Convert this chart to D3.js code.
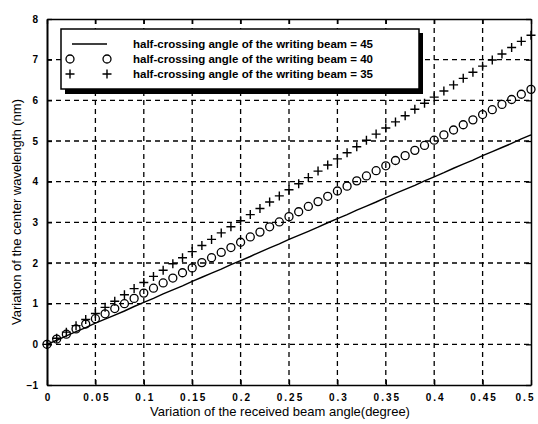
<!DOCTYPE html>
<html>
<head>
<meta charset="utf-8">
<script src="https://cdn.jsdelivr.net/npm/d3@7"></script>
<style>
  html, body { margin: 0; padding: 0; background: #fff; }
  main { width: 538px; height: 424px; }
  svg { display: block; font-family: "Liberation Sans", Arial, sans-serif; }
</style>
</head>
<body>
<main></main>
<script>
// received beam angle variation (degree)
const angles = [
  0, 0.01, 0.02, 0.03, 0.04, 0.05, 0.06, 0.07, 0.08, 0.09,
  0.1, 0.11, 0.12, 0.13, 0.14, 0.15, 0.16, 0.17, 0.18, 0.19,
  0.2, 0.21, 0.22, 0.23, 0.24, 0.25, 0.26, 0.27, 0.28, 0.29,
  0.3, 0.31, 0.32, 0.33, 0.34, 0.35, 0.36, 0.37, 0.38, 0.39,
  0.4, 0.41, 0.42, 0.43, 0.44, 0.45, 0.46, 0.47, 0.48, 0.49, 0.5,
];

// center wavelength variation (nm), one list per half-crossing angle
const beam45 = [
  0, 0.1, 0.21, 0.31, 0.41, 0.52, 0.62, 0.72, 0.82, 0.93,
  1.03, 1.13, 1.24, 1.34, 1.44, 1.55, 1.65, 1.75, 1.85, 1.96,
  2.06, 2.16, 2.27, 2.37, 2.47, 2.58, 2.68, 2.78, 2.88, 2.99,
  3.09, 3.19, 3.3, 3.4, 3.5, 3.61, 3.71, 3.81, 3.91, 4.02,
  4.12, 4.22, 4.33, 4.43, 4.53, 4.64, 4.74, 4.84, 4.94, 5.05, 5.15,
];
const beam40 = [
  0, 0.13, 0.25, 0.38, 0.5, 0.63, 0.75, 0.88, 1.0, 1.13,
  1.26, 1.38, 1.51, 1.63, 1.76, 1.88, 2.01, 2.13, 2.26, 2.38,
  2.51, 2.64, 2.76, 2.89, 3.01, 3.14, 3.26, 3.39, 3.51, 3.64,
  3.77, 3.89, 4.02, 4.14, 4.27, 4.39, 4.52, 4.64, 4.77, 4.89,
  5.02, 5.15, 5.27, 5.4, 5.52, 5.65, 5.77, 5.9, 6.02, 6.15, 6.27,
];
const beam35 = [
  0, 0.15, 0.3, 0.46, 0.61, 0.76, 0.91, 1.06, 1.22, 1.37,
  1.52, 1.67, 1.82, 1.98, 2.13, 2.28, 2.43, 2.58, 2.74, 2.89,
  3.04, 3.19, 3.34, 3.5, 3.65, 3.8, 3.95, 4.1, 4.26, 4.41,
  4.56, 4.71, 4.86, 5.02, 5.17, 5.32, 5.47, 5.62, 5.78, 5.93,
  6.08, 6.23, 6.38, 6.54, 6.69, 6.84, 6.99, 7.14, 7.3, 7.45, 7.6,
];

const xTicks = [0, 0.05, 0.1, 0.15, 0.2, 0.25, 0.3, 0.35, 0.4, 0.45, 0.5];
const xTickLabels = ["0", "0.05", "0.1", "0.15", "0.2", "0.25", "0.3", "0.35", "0.4", "0.45", "0.5"];
const yTicks = [-1, 0, 1, 2, 3, 4, 5, 6, 7, 8];

const legendLabels = [
  "half-crossing angle of the writing beam = 45",
  "half-crossing angle of the writing beam = 40",
  "half-crossing angle of the writing beam = 35",
];

const width = 538;
const height = 424;
const plot = { left: 47, right: 531, top: 19, bottom: 385 };

const svg = d3
  .select("main")
  .append("svg")
  .attr("width", width)
  .attr("height", height)
  .attr("viewBox", `0 0 ${width} ${height}`);

const x = d3.scaleLinear().domain([0, 0.5]).range([plot.left, plot.right]);
const y = d3.scaleLinear().domain([-1, 8]).range([plot.bottom, plot.top]);

// dashed grid
const grid = svg.append("g").attr("stroke", "#000").attr("stroke-width", 1.3).attr("stroke-dasharray", "5,4");
grid
  .selectAll("line.v")
  .data(xTicks.slice(1, -1))
  .enter()
  .append("line")
  .attr("x1", (d) => x(d))
  .attr("x2", (d) => x(d))
  .attr("y1", plot.top)
  .attr("y2", plot.bottom);
grid
  .selectAll("line.h")
  .data(yTicks.slice(1, -1))
  .enter()
  .append("line")
  .attr("x1", plot.left)
  .attr("x2", plot.right)
  .attr("y1", (d) => y(d))
  .attr("y2", (d) => y(d));

// axes, ticks pointing inward (matlab style)
const xAxis = d3
  .axisBottom(x)
  .tickValues(xTicks)
  .tickFormat((d, i) => xTickLabels[i])
  .tickSizeInner(-5)
  .tickSizeOuter(0)
  .tickPadding(9);
const yAxis = d3.axisLeft(y).tickValues(yTicks).tickSizeInner(-5).tickSizeOuter(0).tickPadding(9);

const gx = svg.append("g").attr("transform", `translate(0, ${plot.bottom})`).call(xAxis);
const gy = svg.append("g").attr("transform", `translate(${plot.left}, 0)`).call(yAxis);
svg
  .append("g")
  .attr("transform", `translate(0, ${plot.top})`)
  .call(d3.axisTop(x).tickValues(xTicks).tickSizeInner(-5).tickSizeOuter(0).tickFormat(""));
svg
  .append("g")
  .attr("transform", `translate(${plot.right}, 0)`)
  .call(d3.axisRight(y).tickValues(yTicks).tickSizeInner(-5).tickSizeOuter(0).tickFormat(""));

svg.selectAll(".domain").attr("stroke", "#000").attr("stroke-width", 1.5);
svg.selectAll(".tick line").attr("stroke", "#000").attr("stroke-width", 1.3);
gx.selectAll("text")
  .attr("fill", "#000")
  .attr("font-size", 10)
  .attr("font-weight", "bold")
  .attr("letter-spacing", "2px")
  .attr("dx", (d) => (d === 0.5 ? -6 : 1));
gy.selectAll("text").attr("fill", "#000").attr("font-size", 10).attr("font-weight", "bold");
gy.select(".domain").attr("stroke-width", 2);

// series
const line = d3
  .line()
  .x((d, i) => x(angles[i]))
  .y((d) => y(d));

svg
  .append("path")
  .datum(beam45)
  .attr("d", line)
  .attr("fill", "none")
  .attr("stroke", "#000")
  .attr("stroke-width", 1.4);

svg
  .append("g")
  .selectAll("circle")
  .data(beam40)
  .enter()
  .append("circle")
  .attr("cx", (d, i) => x(angles[i]))
  .attr("cy", (d) => y(d))
  .attr("r", 4)
  .attr("fill", "none")
  .attr("stroke", "#000")
  .attr("stroke-width", 1.3);

svg
  .append("g")
  .selectAll("path")
  .data(beam35)
  .enter()
  .append("path")
  .attr("transform", (d, i) => `translate(${x(angles[i])}, ${y(d)})`)
  .attr("d", "M-4.5,0H4.5M0,-4.5V4.5")
  .attr("stroke", "#000")
  .attr("stroke-width", 1.4);

// legend box with drop shadow
const legend = svg.append("g").attr("transform", "translate(61, 29)");
legend.append("rect").attr("x", 4).attr("y", 4).attr("width", 358).attr("height", 61).attr("fill", "#000");
legend
  .append("rect")
  .attr("width", 358)
  .attr("height", 60)
  .attr("fill", "#fff")
  .attr("stroke", "#000")
  .attr("stroke-width", 1.5);

const rows = legend
  .selectAll("g.row")
  .data(legendLabels)
  .enter()
  .append("g")
  .attr("transform", (d, i) => `translate(0, ${15 + i * 15})`);

rows
  .append("text")
  .attr("x", 72)
  .attr("y", 4)
  .attr("font-size", 11.5)
  .attr("font-weight", "bold")
  .text((d) => d);

rows
  .filter((d, i) => i === 0)
  .append("line")
  .attr("x1", 11)
  .attr("x2", 46)
  .attr("stroke", "#000")
  .attr("stroke-width", 1.3);
rows
  .filter((d, i) => i === 1)
  .selectAll("circle")
  .data([9, 46])
  .enter()
  .append("circle")
  .attr("cx", (d) => d)
  .attr("r", 4)
  .attr("fill", "none")
  .attr("stroke", "#000")
  .attr("stroke-width", 1.3);
rows
  .filter((d, i) => i === 2)
  .selectAll("path")
  .data([9, 46])
  .enter()
  .append("path")
  .attr("transform", (d) => `translate(${d}, 0)`)
  .attr("d", "M-4.5,0H4.5M0,-4.5V4.5")
  .attr("stroke", "#000")
  .attr("stroke-width", 1.4);

// axis titles
svg
  .append("text")
  .attr("x", 280)
  .attr("y", 416)
  .attr("text-anchor", "middle")
  .attr("font-size", 13)
  .text("Variation of the received beam angle(degree)");

svg
  .append("text")
  .attr("transform", "translate(21, 212) rotate(-90)")
  .attr("text-anchor", "middle")
  .attr("font-size", 13)
  .text("Variation of the center wavelength (nm)");
</script>
</body>
</html>
